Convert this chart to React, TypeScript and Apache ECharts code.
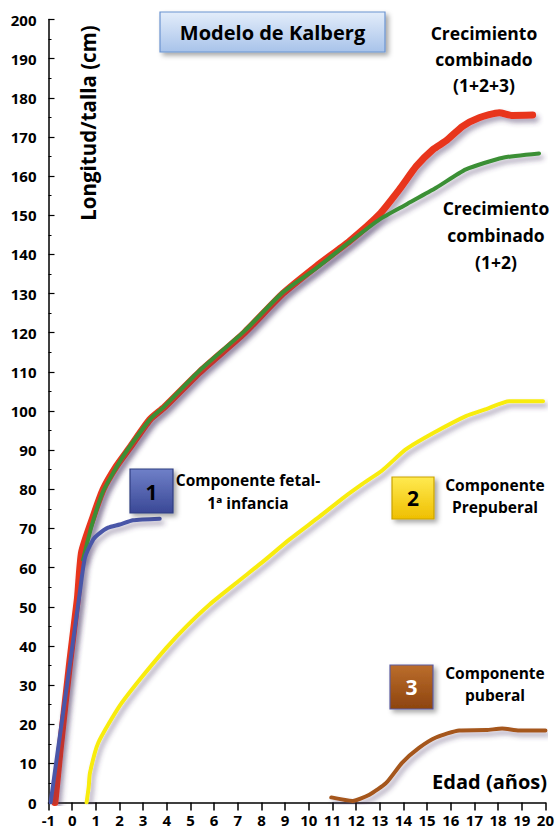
import React, { useEffect, useRef } from "react";
import * as echarts from "echarts";

// Component 1: fetal / early infancy
const comp1: number[][] = [
  [-0.91, 0], [-0.52, 17], [-0.03, 38.2], [0.32, 53.5], [0.54, 62.5], [0.89, 67.2],
  [1.1, 68.5], [1.52, 70.2], [2.01, 71], [2.57, 72.1], [3.7, 72.5],
];
// Component 2: prepubertal
const comp2: number[][] = [
  [0.61, 0], [0.7, 4], [0.75, 7.5], [1.1, 15.2], [2.0, 24.6], [2.86, 31.4], [3.98, 39.5],
  [4.83, 45], [5.81, 50.6], [7.0, 56.4], [8.0, 61.2], [9.19, 67.2], [10.45, 73],
  [11.5, 78], [12.3, 81.5], [13.1, 84.8], [14.1, 90.2], [15.3, 94.5], [16.64, 98.7],
  [17.5, 100.5], [18.47, 102.5], [19.9, 102.5],
];
// Component 3: pubertal
const comp3: number[][] = [
  [10.95, 1.3], [11.85, 0.4], [12.56, 2], [13.27, 5], [13.95, 10.2], [14.67, 14],
  [15.37, 16.6], [16.36, 18.4], [17.5, 18.5], [18.17, 18.9], [18.89, 18.4], [20, 18.4],
];
// Combined growth (1+2)
const comb12: number[][] = [
  [0.46, 62], [0.82, 70.6], [1.31, 79.5], [2.15, 88.4], [3.28, 97.8], [3.9, 101.2],
  [5.4, 110.4], [7.28, 120.4], [8.9, 130.3], [10.32, 136.5], [11.58, 142.5],
  [12.98, 148.9], [14.1, 152.7], [15.38, 157], [16.64, 161.7], [18.2, 164.7], [19.73, 165.8],
];
// Combined growth (1+2+3)
const comb123: number[][] = [
  [-0.73, 0], [-0.5, 14], [-0.1, 36], [0.22, 52], [0.4, 64], [0.89, 73.1],
  [1.31, 80], [1.87, 85.9], [2.43, 90.6], [3.28, 97.8], [3.9, 101], [5.4, 110],
  [7.28, 120], [8.9, 130], [10.32, 137], [11.72, 143.4], [12.98, 150.2], [13.83, 156.6],
  [14.54, 162.5], [15.25, 166.8], [15.8, 169], [16.5, 172.7], [17.2, 174.9],
  [18.05, 176.2], [18.6, 175.5], [19.46, 175.6],
];

const FONT = "'Open Sans', 'DejaVu Sans', sans-serif";

const shadow = {
  shadowColor: "rgba(70,50,100,0.45)",
  shadowBlur: 5,
  shadowOffsetX: 3,
  shadowOffsetY: 4,
};

function line(name: string, data: number[][], color: string, width: number) {
  return {
    name,
    type: "line",
    data,
    symbol: "none",
    smooth: 0.2,
    lineStyle: { color, width, cap: "round", join: "round", ...shadow },
  };
}

function txt(text: string, x: number, y: number, size: number, lh: number, color = "#000", align = "center") {
  return {
    type: "text",
    x,
    y,
    z: 100,
    style: {
      text,
      fill: color,
      fontSize: size,
      fontWeight: "bold",
      fontFamily: FONT,
      align,
      verticalAlign: "middle",
      lineHeight: lh,
    },
  };
}

function box(x: number, y: number, w: number, h: number, c1: string, c2: string, stroke: string) {
  return {
    type: "rect",
    z: 90,
    shape: { x, y, width: w, height: h },
    style: {
      fill: new echarts.graphic.LinearGradient(0, 0, 0, 1, [
        { offset: 0, color: c1 },
        { offset: 1, color: c2 },
      ]),
      stroke,
      lineWidth: 1.2,
      shadowColor: "rgba(0,0,0,0.35)",
      shadowBlur: 5,
      shadowOffsetX: 3,
      shadowOffsetY: 3,
    },
  };
}

export default function App() {
  const ref = useRef<HTMLDivElement>(null);
  useEffect(() => {
    const chart = echarts.init(ref.current as HTMLDivElement, null, { renderer: "svg" });
    const yTitle: any = txt("Longitud/talla (cm)", 88, 123, 20.5, 24);
    yTitle.rotation = Math.PI / 2;
    chart.setOption({
      animation: false,
      backgroundColor: "#fff",
      grid: { left: 48.5, right: 11, top: 19.5, bottom: 28.5, containLabel: false },
      xAxis: {
        type: "value",
        min: -1,
        max: 20,
        interval: 1,
        axisLine: { show: true, onZero: false, lineStyle: { color: "#000", width: 1.5 } },
        axisTick: { show: true, inside: false, length: 8, lineStyle: { color: "#000", width: 1.5 } },
        axisLabel: { color: "#000", fontSize: 15, fontWeight: "bold", fontFamily: FONT, margin: 10 },
        splitLine: { show: false },
      },
      yAxis: {
        type: "value",
        min: 0,
        max: 200,
        interval: 10,
        axisLine: { show: true, onZero: false, lineStyle: { color: "#000", width: 1.5 } },
        axisTick: { show: true, inside: true, length: 6, lineStyle: { color: "#000", width: 1.2 } },
        minorTick: { show: true, splitNumber: 2, length: 3, lineStyle: { color: "#000", width: 1 } },
        axisLabel: { color: "#000", fontSize: 15, fontWeight: "bold", fontFamily: FONT, margin: 12 },
        splitLine: { show: false },
      },
      series: [
        line("Componente prepuberal", comp2, "#f8ec10", 4),
        line("Componente puberal", comp3, "#a5561a", 4),
        line("Crecimiento combinado (1+2+3)", comb123, "#e8361b", 7),
        line("Crecimiento combinado (1+2)", comb12, "#3b8f35", 4),
        line("Componente fetal-1ª infancia", comp1, "#4a56a8", 4),
      ],
      graphic: [
        {
          type: "rect",
          z: 90,
          shape: { x: 160, y: 12, width: 225, height: 40 },
          style: {
            fill: new echarts.graphic.LinearGradient(0, 0, 0, 1, [
              { offset: 0, color: "#e3edfa" },
              { offset: 1, color: "#a8c3ea" },
            ]),
            stroke: "#6b93d0",
            lineWidth: 1.2,
            shadowColor: "rgba(0,0,0,0.35)",
            shadowBlur: 5,
            shadowOffsetX: 3,
            shadowOffsetY: 3,
          },
        },
        txt("Modelo de Kalberg", 272.5, 32.5, 20, 24),
        yTitle,
        txt("Crecimiento\ncombinado\n(1+2+3)", 484, 59, 17.5, 26),
        txt("Crecimiento\ncombinado\n(1+2)", 496, 235, 17.5, 27),
        box(130, 469, 43, 44, "#6f80c8", "#3a4896", "#2f3d80"),
        txt("1", 151.5, 492, 21, 24),
        txt("Componente fetal-\n1ª infancia", 248, 491.5, 15.5, 23),
        box(392, 477, 42, 42, "#ffea50", "#efbf00", "#c9a200"),
        txt("2", 413, 498, 21, 24),
        txt("Componente\nPrepuberal", 495, 496, 15.5, 22),
        box(390, 665, 43, 44, "#bb6d2c", "#8d440f", "#5a5aa0"),
        txt("3", 411.5, 687, 21, 24, "#fff"),
        txt("Componente\npuberal", 495, 684, 15.5, 22),
        txt("Edad (años)", 547, 781, 20, 24, "#000", "right"),
      ],
    });
    return () => chart.dispose();
  }, []);
  return (
    <div
      ref={ref}
      style={{ position: "absolute", left: 0, top: 0, width: 557, height: 831 }}
    />
  );
}
